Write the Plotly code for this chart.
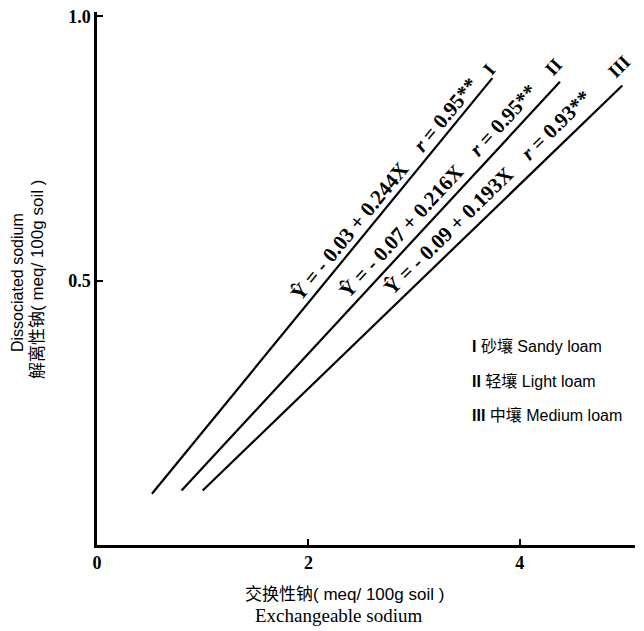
import plotly.graph_objects as go

# ---- data ----
soil_ids = ["I", "II", "III"]
soil_names = ["砂壤 Sandy loam", "轻壤 Light loam", "中壤 Medium loam"]
equations = ["Ŷ = - 0.03 + 0.244X", "Ŷ = - 0.07 + 0.216X", "Ŷ = - 0.09 + 0.193X"]
r_values = ["0.95", "0.95", "0.93"]
x_start = [0.52, 0.80, 1.00]
x_end = [3.74, 4.38, 4.97]
y_start = [0.097, 0.103, 0.103]
y_end = [0.883, 0.876, 0.869]
x_ticks = [0, 2, 4]
x_ticklabels = ["0", "2", "4"]
y_ticks = [0.5, 1.0]
y_ticklabels = ["0.5", "1.0"]
x_title = ["交换性钠( meq/ 100g soil )", "Exchangeable sodium"]
y_title = ["Dissociated sodium", "解离性钠( meq/ 100g soil )"]

SERIF = "Liberation Serif, Noto Serif CJK SC, Noto Sans CJK SC, serif"
SANS = "Liberation Sans, Noto Sans CJK SC, sans-serif"

# page is rendered with an 8px body margin
OFF = 8
W, H = 644, 631
XMAX = 5.09
YMAX = 1.008
PLOT_H = 529 * YMAX          # 529 px per unit of y
L, R, B = 97 - OFF, W - 635 + OFF, H - 545 + OFF
T = int(round(H - B - PLOT_H))


def px(xp):  # page pixel x -> paper fraction
    return (xp - OFF - L) / (W - L - R)


def py(yp):  # page pixel y -> paper fraction
    return 1 - (yp - OFF - T) / (H - T - B)


fig = go.Figure()
for i in range(3):
    fig.add_trace(go.Scatter(
        x=[x_start[i], x_end[i]], y=[y_start[i], y_end[i]],
        mode="lines", line=dict(color="black", width=2.2),
        showlegend=False, hoverinfo="skip"))

# equation labels (centre positions, angles follow each line)
label_pos = [(2.72, 0.673), (3.23, 0.669), (3.69, 0.666)]
label_ang = [-50.5, -47.5, -44.5]
for i in range(3):
    fig.add_annotation(
        x=label_pos[i][0], y=label_pos[i][1], xref="x", yref="y",
        text=f"<b>{equations[i]}    <i>r</i> = {r_values[i]}**</b>",
        textangle=label_ang[i], showarrow=False,
        font=dict(family=SERIF, size=21, color="black"))

# roman numerals at line ends
num_pos = [(3.83, 0.900), (4.47, 0.905), (5.11, 0.905)]
for i in range(3):
    fig.add_annotation(
        x=num_pos[i][0] / XMAX, y=num_pos[i][1], xref="x domain", yref="y",
        text=f"<b>{soil_ids[i]}</b>", textangle=label_ang[i],
        showarrow=False, font=dict(family=SERIF, size=19, color="black"))

# legend block
leg_y = [346, 381, 415]
for i in range(3):
    fig.add_annotation(
        x=px(470), y=py(leg_y[i]), xref="paper", yref="paper",
        text=f"<b>{soil_ids[i]}</b> {soil_names[i]}",
        xanchor="left", yanchor="middle", showarrow=False,
        font=dict(family=SANS, size=16, color="black"))

# axis titles
fig.add_annotation(x=px(344), y=py(594), xref="paper", yref="paper",
                   text=x_title[0], showarrow=False, xanchor="center", yanchor="middle",
                   font=dict(family=SANS, size=17, color="black"))
fig.add_annotation(x=px(338), y=py(615), xref="paper", yref="paper",
                   text=x_title[1], showarrow=False, xanchor="center", yanchor="middle",
                   font=dict(family=SERIF, size=19, color="black"))
fig.add_annotation(x=px(17), y=py(283), xref="paper", yref="paper",
                   text=y_title[0], showarrow=False, textangle=-90,
                   xanchor="center", yanchor="middle",
                   font=dict(family=SANS, size=16, color="black"))
fig.add_annotation(x=px(37), y=py(280), xref="paper", yref="paper",
                   text=y_title[1], showarrow=False, textangle=-90,
                   xanchor="center", yanchor="middle",
                   font=dict(family=SANS, size=17, color="black"))

fig.update_layout(
    width=W, height=H,
    margin=dict(l=L, r=R, t=T, b=B, autoexpand=False),
    paper_bgcolor="white", plot_bgcolor="white",
    showlegend=False,
    xaxis=dict(range=[0, XMAX], showgrid=False, zeroline=False,
               showline=True, linecolor="black", linewidth=2.5,
               ticks="inside", ticklen=6, tickwidth=1.5, tickcolor="black",
               tickvals=x_ticks, ticktext=[f"<b>{t}</b>" for t in x_ticklabels],
               tickfont=dict(family=SERIF, size=18, color="black")),
    yaxis=dict(range=[0, YMAX], showgrid=False, zeroline=False,
               showline=True, linecolor="black", linewidth=2.5,
               ticks="inside", ticklen=6, tickwidth=1.5, tickcolor="black",
               ticklabeloverflow="allow",
               tickvals=y_ticks, ticktext=[f"<b>{t}</b>" for t in y_ticklabels],
               tickfont=dict(family=SERIF, size=18, color="black")),
)

fig.write_html("out.html")
